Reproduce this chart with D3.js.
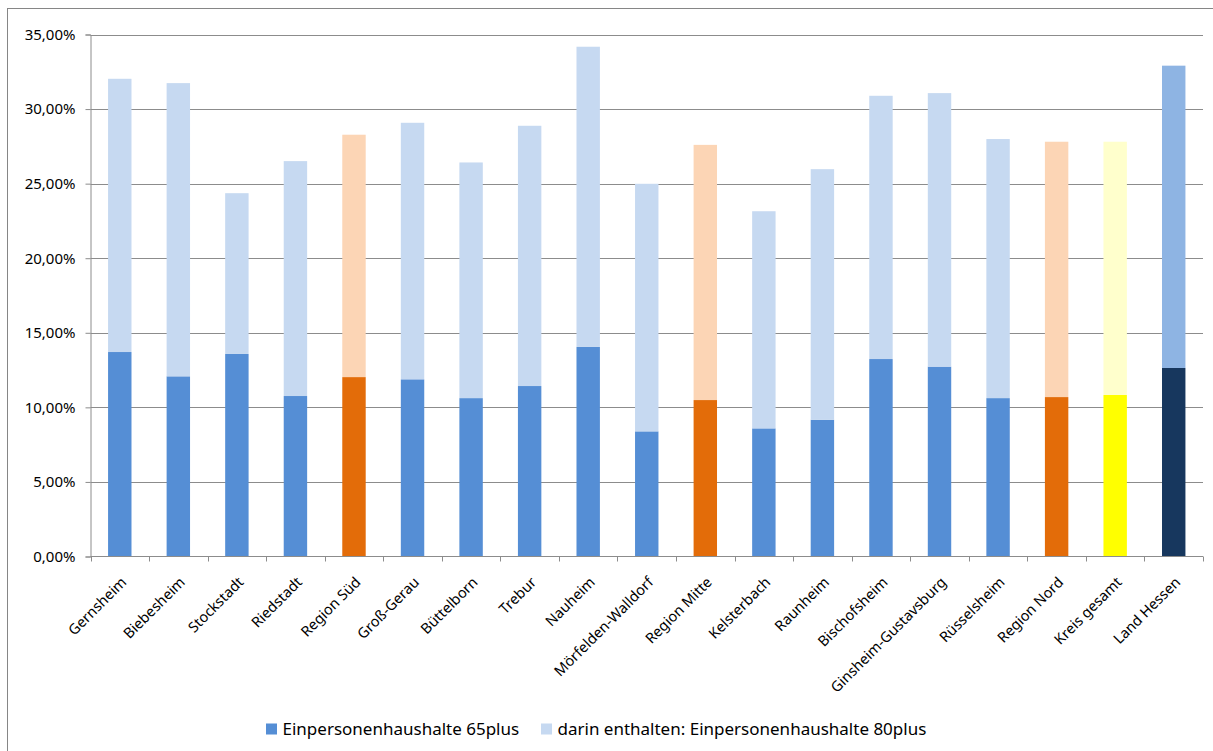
<!DOCTYPE html>
<html>
<head>
<meta charset="utf-8">
<script src="https://cdn.jsdelivr.net/npm/d3@7"></script>
<style>
  body { margin: 0; background: #fff; }
  text { font-family: "Noto Sans", "Open Sans", sans-serif; fill: #000; }
</style>
</head>
<body>
<div id="chart"></div>
<script>
// categories
const categories = ["Gernsheim", "Biebesheim", "Stockstadt", "Riedstadt", "Region Süd",
    "Groß-Gerau", "Büttelborn", "Trebur", "Nauheim", "Mörfelden-Walldorf", "Region Mitte",
    "Kelsterbach", "Raunheim", "Bischofsheim", "Ginsheim-Gustavsburg", "Rüsselsheim",
    "Region Nord", "Kreis gesamt", "Land Hessen"];

// share of single-person households 65plus (bottom segment, %)
const hh65 = [13.71, 12.08, 13.58, 10.76, 12.03, 11.88, 10.62, 11.43, 14.05, 8.39, 10.49,
    8.59, 9.17, 13.24, 12.73, 10.62, 10.69, 10.83, 12.64];

// bar top (65plus + 80plus stacked, %)
const barTop = [32.03, 31.74, 24.36, 26.51, 28.28, 29.08, 26.42, 28.88, 34.18, 24.99, 27.60,
    23.15, 25.97, 30.89, 31.07, 27.99, 27.81, 27.81, 32.91];

// 80plus segment stacked on top
const hh80 = barTop.map((t, i) => t - hh65[i]);

const yTicks = [0, 5, 10, 15, 20, 25, 30, 35];
const seriesNames = ["Einpersonenhaushalte 65plus", "darin enthalten: Einpersonenhaushalte 80plus"];

// colour per category kind: [dark, light]
const kind = c => c.startsWith("Region") ? "region" : c === "Kreis gesamt" ? "kreis" : c === "Land Hessen" ? "land" : "town";
const colors = {
    town: ["#558ed5", "#c6d9f1"],
    region: ["#e36c09", "#fcd5b5"],
    kreis: ["#ffff00", "#ffffcc"],
    land: ["#17375e", "#8eb4e3"]
};

const width = 1213, height = 751;
const margin = { left: 90.5, right: 10, top: 34.5, bottom: 195 };

const svg = d3.select("#chart").append("svg").attr("width", width).attr("height", height);

// outer frame
svg.append("rect").attr("x", 7.5).attr("y", 8.5).attr("width", width).attr("height", height)
    .attr("fill", "none").attr("stroke", "#868686");

const x = d3.scaleBand().domain(categories).range([margin.left, 1203]).paddingInner(0.6).paddingOuter(0.3);
const y = d3.scaleLinear().domain([0, 35]).range([556.5, margin.top]);

// grid
svg.append("g").selectAll("line").data(yTicks.slice(1)).join("line")
    .attr("x1", margin.left).attr("x2", 1203)
    .attr("y1", d => Math.round(y(d)) + 0.5).attr("y2", d => Math.round(y(d)) + 0.5)
    .attr("stroke", "#8c8c8c").attr("stroke-width", 1);

// bars
const g = svg.append("g");
categories.forEach((c, i) => {
    const col = colors[kind(c)];
    g.append("rect").attr("x", x(c)).attr("width", x.bandwidth())
        .attr("y", y(hh65[i])).attr("height", y(0) - y(hh65[i]))
        .attr("fill", col[0]);
    g.append("rect").attr("x", x(c)).attr("width", x.bandwidth())
        .attr("y", y(hh65[i] + hh80[i])).attr("height", y(hh65[i]) - y(hh65[i] + hh80[i]))
        .attr("fill", col[1]);
});

// y axis
const yAxis = svg.append("g").attr("transform", `translate(${margin.left},0)`)
    .call(d3.axisLeft(y).tickValues(yTicks).tickSize(5).tickPadding(10)
        .tickFormat(d => d3.format(".2f")(d).replace(".", ",") + "%"));
yAxis.select(".domain").attr("stroke", "#8c8c8c");
yAxis.selectAll(".tick line").attr("stroke", "#8c8c8c");
yAxis.selectAll(".tick text").attr("font-size", 15).attr("font-family", "Noto Sans");

// x axis
const step = x.step();
const xAxisG = svg.append("g").attr("transform", `translate(0,${y(0)})`);
xAxisG.append("line").attr("x1", margin.left).attr("x2", 1203).attr("stroke", "#8c8c8c");
xAxisG.selectAll("line.tk").data(d3.range(categories.length + 1)).join("line").attr("class", "tk")
    .attr("x1", i => Math.round(margin.left + i * step) + 0.5).attr("x2", i => Math.round(margin.left + i * step) + 0.5)
    .attr("y1", 0).attr("y2", 5).attr("stroke", "#8c8c8c");
xAxisG.selectAll("text").data(categories).join("text")
    .attr("transform", d => `translate(${x(d) + x.bandwidth() / 2 + 4},23) rotate(-45)`)
    .attr("text-anchor", "end").attr("dy", "0.35em")
    .attr("font-size", 14.5)
    .text(d => d);

// legend
const legend = svg.append("g").attr("transform", "translate(266,729)");
const legendX = [0, 275];
seriesNames.forEach((s, i) => {
    legend.append("rect").attr("x", legendX[i]).attr("y", -5.5).attr("width", 11).attr("height", 11)
        .attr("fill", colors.town[i]);
    legend.append("text").attr("x", legendX[i] + 16.5).attr("y", 0).attr("dy", "0.35em")
        .attr("font-size", 17).text(s);
});
</script>
</body>
</html>
